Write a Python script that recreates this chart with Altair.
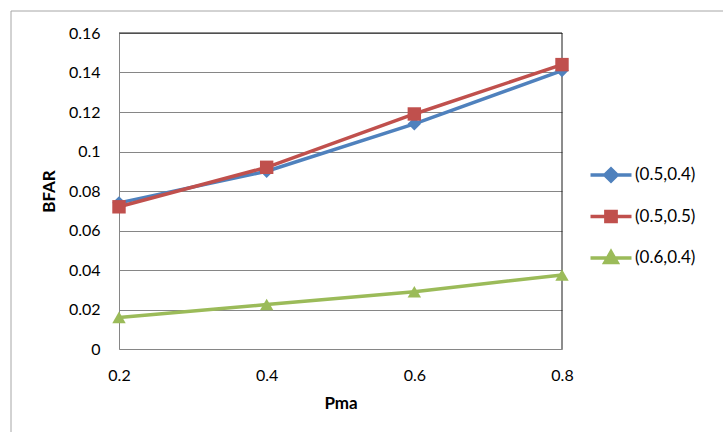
import altair as alt
import pandas as pd

# ---- data ----
pma = [0.2, 0.4, 0.6, 0.8]
s_05_04 = [0.074, 0.090, 0.114, 0.141]
s_05_05 = [0.072, 0.092, 0.119, 0.144]
s_06_04 = [0.016, 0.0225, 0.029, 0.0375]
series_names = ["(0.5,0.4)", "(0.5,0.5)", "(0.6,0.4)"]
colors = ["#4F81BD", "#C0504D", "#9BBB59"]
y_ticks = [0, 0.02, 0.04, 0.06, 0.08, 0.1, 0.12, 0.14, 0.16]

rows = []
for name, vals in zip(series_names, [s_05_04, s_05_05, s_06_04]):
    for x, v in zip(pma, vals):
        rows.append({"Pma": x, "BFAR": v, "series": name})
df = pd.DataFrame(rows)

W, H = 443, 316
FONT = "Lato"

x_enc = alt.X("Pma:Q", scale=alt.Scale(domain=[0.2, 0.8], nice=False, zero=False),
              axis=alt.Axis(values=pma, format="~g", title="Pma", grid=False,
                            ticks=False, labelPadding=18, titlePadding=12,
                            labelFlush=False, domainColor="#868686"))
y_enc = alt.Y("BFAR:Q", scale=alt.Scale(domain=[0, 0.16], nice=False),
              axis=alt.Axis(values=y_ticks, format="~g", title="BFAR", grid=True,
                            gridColor="#868686", ticks=False, labelPadding=19,
                            titlePadding=10, labelFlush=False, domainColor="#868686"))

base = alt.Chart(df)
one = "datum.Pma == 0.2 && datum.series == '(0.5,0.4)'"

outer = base.mark_rect(fill=None, stroke="#a6a6a6", strokeWidth=1).encode(
    x=alt.value(-108), x2=alt.value(W + 200), y=alt.value(-22), y2=alt.value(H + 120)
).transform_filter(one)

top_rule = base.mark_rule(color="#1a1a1a", strokeWidth=1).encode(
    x=alt.value(0), x2=alt.value(W), y=alt.value(0)
).transform_filter(one)
right_rule = base.mark_rule(color="#1a1a1a", strokeWidth=1).encode(
    x=alt.value(W), y=alt.value(0), y2=alt.value(H)
).transform_filter(one)

lines = base.mark_line(strokeWidth=3.5, strokeJoin="round", strokeCap="round").encode(
    x=x_enc, y=y_enc,
    stroke=alt.Stroke("series:N", scale=alt.Scale(domain=series_names, range=colors), legend=None),
)

points = base.mark_point(filled=True, opacity=1).encode(
    x=x_enc, y=y_enc,
    fill=alt.Fill("series:N", scale=alt.Scale(domain=series_names, range=colors), legend=None),
    shape=alt.Shape("series:N", scale=alt.Scale(domain=series_names,
                    range=["diamond", "square", "triangle-up"]), legend=None),
    size=alt.value(180),
)

leg_paths = [
    "M-2,0H2M-0.6,0L0,-0.6L0.6,0L0,0.6Z",
    "M-2,0H2M-0.5,-0.5H0.5V0.5H-0.5Z",
    "M-2,0H2M-0.6,0.45L0,-0.6L0.6,0.45Z",
]
leg = alt.Legend(title=None, orient="none", legendX=480, legendY=130, padding=0,
                 symbolSize=420, symbolStrokeWidth=3.5, rowPadding=14.5,
                 labelOffset=12, labelFont=FONT, labelFontSize=17, labelColor="#000000")
legend_layer = base.mark_point(filled=True, opacity=1).encode(
    x=x_enc, y=y_enc,
    fill=alt.Fill("series:N", scale=alt.Scale(domain=series_names, range=colors), legend=leg),
    stroke=alt.Stroke("series:N", scale=alt.Scale(domain=series_names, range=colors), legend=leg),
    shape=alt.Shape("series:N", scale=alt.Scale(domain=series_names, range=leg_paths), legend=leg),
).transform_filter("false")

chart = alt.layer(outer, top_rule, right_rule, lines, points, legend_layer).resolve_scale(
    fill="independent", stroke="independent", shape="independent"
).properties(
    width=W, height=H,
    autosize=alt.AutoSizeParams(type="none"),
    padding={"left": 119, "top": 33, "right": 723 - 119 - W, "bottom": 432 - 33 - H},
    background="white",
).configure_view(stroke=None).configure_axis(
    labelFont=FONT, labelFontSize=16, labelColor="#000000",
    titleFont=FONT, titleFontSize=17, titleFontWeight="bold", titleColor="#000000",
    domainWidth=1,
)

chart.save("out.html", embed_options={"renderer": "svg", "actions": False})
